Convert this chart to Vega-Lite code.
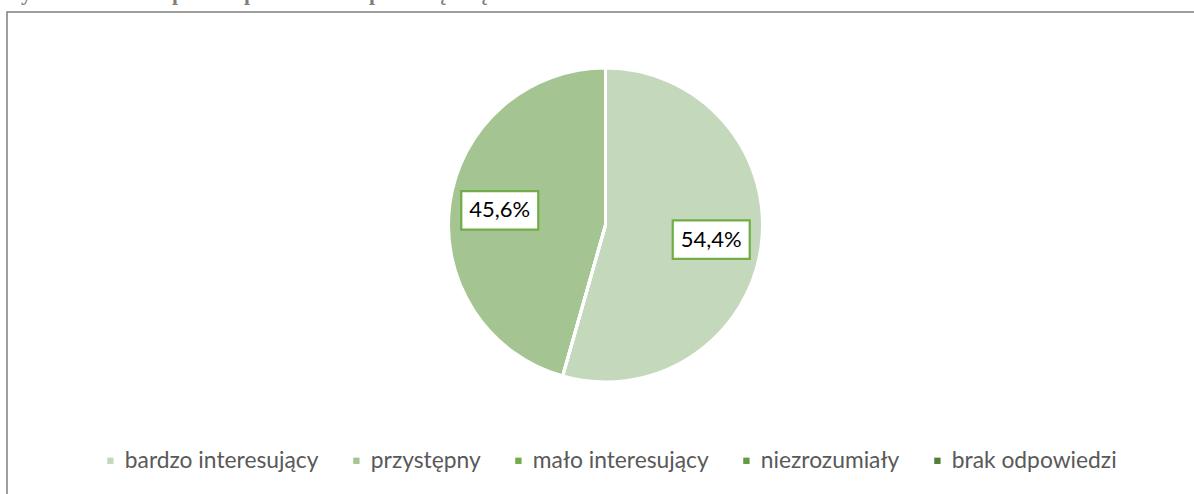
{
  "$schema": "https://vega.github.io/schema/vega-lite/v6.json",
  "autosize": {"type": "none"},
  "padding": {"left": 7, "top": 12, "right": 0, "bottom": 0},
  "width": 1197,
  "height": 500,
  "background": "white",
  "title": {
    "text": "Wykres 6. Ocena sposobu prowadzenia przedsięwzięcia",
    "anchor": "start",
    "frame": "group",
    "font": "Liberation Serif",
    "fontSize": 21.8,
    "fontWeight": "bold",
    "color": "#7f7f7f",
    "baseline": "alphabetic",
    "offset": -10,
    "dx": -7
  },
  "config": {
    "view": {"stroke": "#7f7f7f", "strokeWidth": 1.5}
  },
  "data": {
    "values": [
      {"category": "bardzo interesujący", "value": 54.4},
      {"category": "przystępny", "value": 45.6},
      {"category": "mało interesujący", "value": 0},
      {"category": "niezrozumiały", "value": 0},
      {"category": "brak odpowiedzi", "value": 0}
    ]
  },
  "layer": [
    {
      "mark": {"type": "arc", "outerRadius": 157, "stroke": "white", "strokeWidth": 3, "yOffset": -37},
      "encoding": {
        "theta": {"field": "value", "type": "quantitative", "stack": true},
        "color": {
          "field": "category",
          "type": "nominal",
          "scale": {
            "domain": ["bardzo interesujący", "przystępny", "mało interesujący", "niezrozumiały", "brak odpowiedzi"],
            "range": ["#c4d8bb", "#a4c592", "#70ad47", "#629a3e", "#507f35"]
          },
          "legend": {
            "orient": "none",
            "legendX": 92,
            "legendY": 437,
            "direction": "horizontal",
            "columns": 5,
            "title": null,
            "padding": 0,
            "symbolType": "square",
            "symbolSize": 40,
            "symbolStrokeWidth": 0,
            "labelFont": "Lato",
            "labelFontSize": 22.8,
            "labelColor": "#595959",
            "labelOffset": 3,
            "columnPadding": 26,
            "labelLimit": 400
          }
        }
      }
    },
    {
      "transform": [
        {"window": [{"op": "sum", "field": "value", "as": "cum"}], "frame": [null, 0]},
        {"filter": "datum.value > 0"},
        {"calculate": "2*PI*(datum.cum - datum.value/2)/100", "as": "mid"},
        {"calculate": "0.68*sin(datum.mid)", "as": "lx"},
        {"calculate": "0.68*cos(datum.mid)", "as": "ly"},
        {"calculate": "replace(format(datum.value, '.1f'), '.', ',') + '%'", "as": "label"}
      ],
      "encoding": {
        "x": {"field": "lx", "type": "quantitative", "scale": {"domain": [-3.8121, 3.8121], "nice": false, "zero": false}, "axis": null},
        "y": {"field": "ly", "type": "quantitative", "scale": {"domain": [-1.5924, 1.5924], "nice": false, "zero": false}, "axis": null}
      },
      "layer": [
        {
          "mark": {"type": "point", "shape": "M-1,-0.5H1V0.5H-1Z", "size": 5929, "filled": true, "fill": "white", "stroke": "#70ad47", "strokeWidth": 2.2, "opacity": 1, "yOffset": -37}
        },
        {
          "mark": {"type": "text", "font": "Lato", "fontSize": 22, "color": "#000000", "align": "center", "baseline": "middle", "yOffset": -37},
          "encoding": {"text": {"field": "label", "type": "nominal"}}
        }
      ]
    }
  ]
}
